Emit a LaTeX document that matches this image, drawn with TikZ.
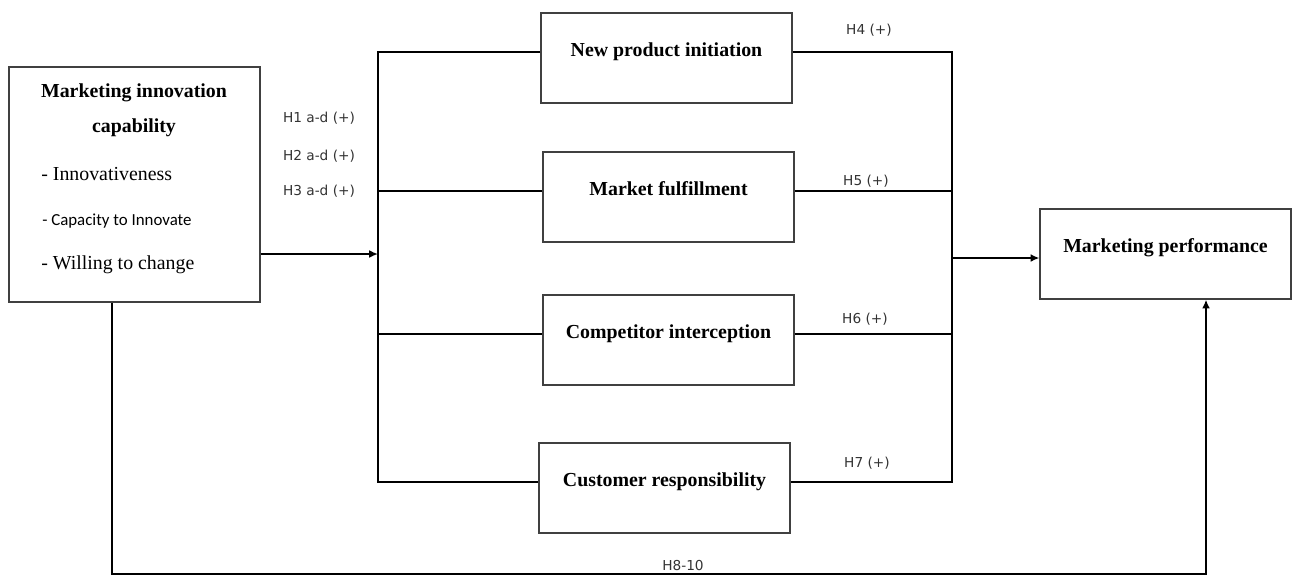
\documentclass[tikz,border=0pt]{standalone}
\usepackage{fontspec}
\setmainfont{Liberation Serif}
\newfontfamily\hfont{DejaVu Sans}
\newfontfamily\capfont{Carlito}
\usetikzlibrary{arrows.meta}

\begin{document}
\begin{tikzpicture}[x=0.02cm,y=-0.02cm]

\tikzstyle{box} = [draw=black!75, line width=0.7pt, inner sep=0,
    minimum width=5.02cm, minimum height=1.8cm,
    font=\fontsize{11.3}{13}\selectfont\bfseries,
    text height=0.27cm, text depth=0.33cm]
\tikzstyle{bigbox} = [draw=black!75, line width=0.7pt,
    minimum width=5.02cm, minimum height=4.7cm]
\tikzstyle{itemtext} = [anchor=west, inner sep=0,
    font=\fontsize{11.3}{13}\selectfont]
\tikzstyle{hyp} = [inner sep=0, text=black!80,
    font=\hfont\fontsize{7.8}{9}\selectfont]
\tikzstyle{conn} = [line width=1.1pt, black]
\tikzstyle{arr} = [conn, -{Latex[length=5pt,width=4.5pt]}]

\useasboundingbox (0,0) rectangle (1297,576);

% =========================
% marketing innovation capability (left)
% =========================
\node[bigbox] (mic) at (134.5,184.5) {};
\node[align=center, inner sep=0, font=\fontsize{11.3}{13}\selectfont\bfseries]
    (mictitle) at (134,110) {Marketing innovation\\[7pt]capability};
\node[itemtext] (inno) at (41,174) {- Innovativeness};
\node[itemtext, font=\capfont\fontsize{9.6}{11}\selectfont] (capa) at (42,221) {- Capacity to Innovate};
\node[itemtext] (will) at (41,265) {- Willing to change};

\node[hyp] (h1) at (319,118) {H1 a-d (+)};
\node[hyp] (h2) at (319,156) {H2 a-d (+)};
\node[hyp] (h3) at (319,191) {H3 a-d (+)};

% =========================
% four mediators - middle column
% =========================
\node[box] (npi) at (666.5,58) {New product initiation};
\node[box] (mf) at (668.5,197) {Market fulfillment};
\node[box] (ci) at (668.5,340) {Competitor interception};
\node[box] (cr) at (664.5,488) {Customer responsibility};

\coordinate (npi-in) at ([yshift=1.2mm]npi.west);
\coordinate (mf-in) at ([yshift=1.2mm]mf.west);
\coordinate (ci-in) at ([yshift=1.2mm]ci.west);
\coordinate (cr-in) at ([yshift=1.2mm]cr.west);
\coordinate (npi-out) at ([yshift=1.2mm]npi.east);
\coordinate (mf-out) at ([yshift=1.2mm]mf.east);
\coordinate (ci-out) at ([yshift=1.2mm]ci.east);
\coordinate (cr-out) at ([yshift=1.2mm]cr.east);

\node[hyp] (h4) at (869,30) {H4 (+)};
\node[hyp] (h5) at (866,181) {H5 (+)};
\node[hyp] (h6) at (865,319) {H6 (+)};
\node[hyp] (h7) at (867,463) {H7 (+)};

% =========================
% marketing performance (right)
% =========================
\node[box] (mp) at (1165.5,254) {Marketing performance};

% =========================
% left bus
% =========================
\coordinate (lbus) at (378,254);
\draw[conn] (npi-in) -| (lbus) |- (cr-in);
\draw[conn] (lbus |- mf-in) -- (mf-in);
\draw[conn] (lbus |- ci-in) -- (ci-in);
\draw[arr] (mic.east |- lbus) -- (lbus);

% =========================
% right bus
% =========================
\coordinate (rbus) at (952,258);
\draw[conn] (npi-out) -| (rbus) |- (cr-out);
\draw[conn] (mf-out) -- (rbus |- mf-out);
\draw[conn] (ci-out) -- (rbus |- ci-out);
\draw[arr] (rbus) -- (mp.west |- rbus);

% =========================
% direct path (bottom)
% =========================
\coordinate (fb) at (112,574);
\coordinate (fe) at (1206,574);
\draw[arr] (mic.south -| fb) -- (fb) -- (fe) -- (mp.south -| fe);
\node[hyp] (h8) at (683,565) {H8-10};

\end{tikzpicture}
\end{document}
